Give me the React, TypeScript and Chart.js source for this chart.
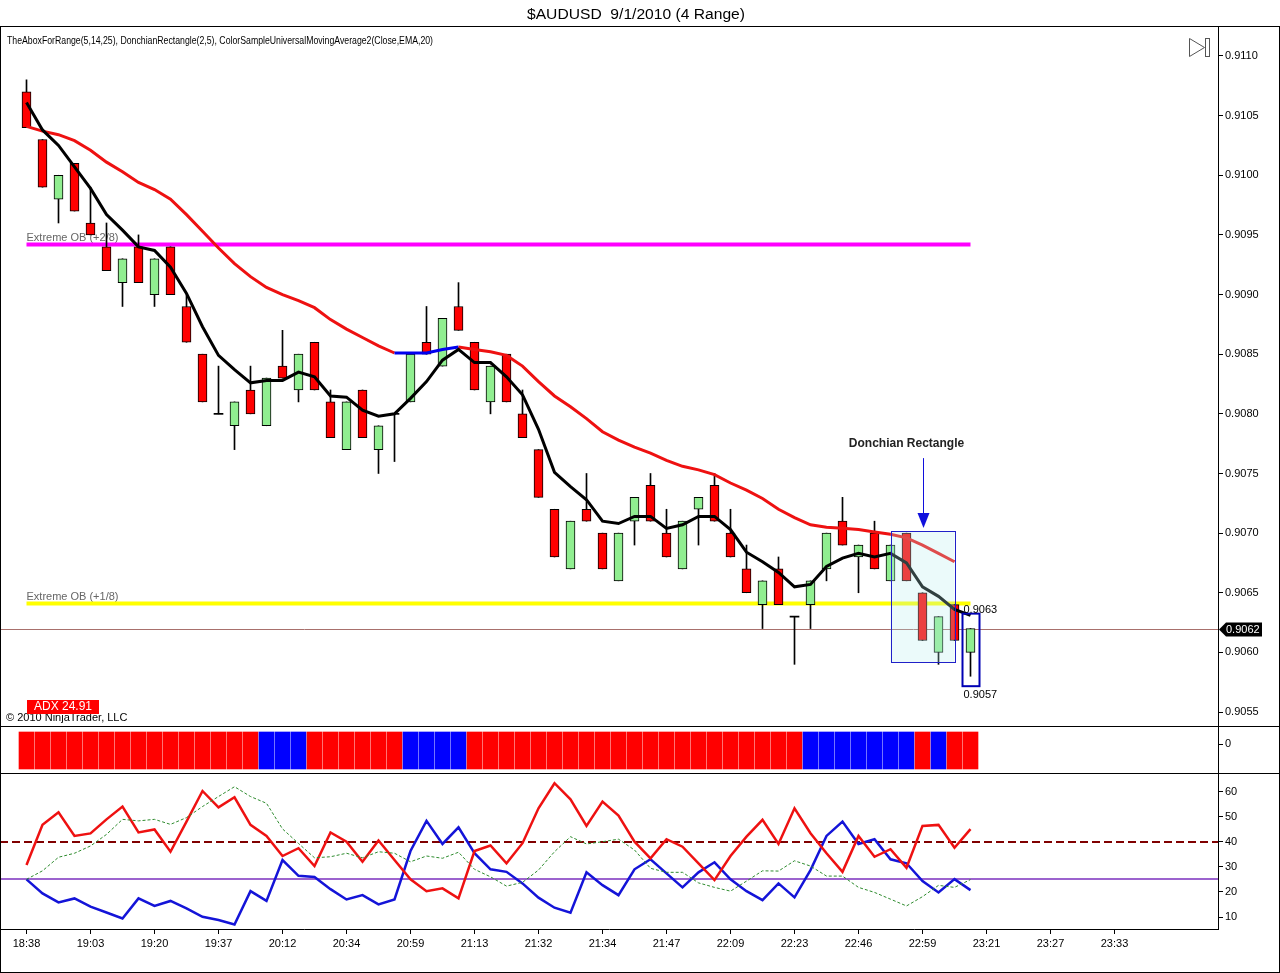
import { useEffect, useRef } from "react";
import { Chart, registerables, type Plugin } from "chart.js";

Chart.register(...registerables);

const FONT = "'Liberation Sans', Arial, Helvetica, sans-serif";
Chart.defaults.font.family = FONT;
Chart.defaults.font.size = 11;
Chart.defaults.color = "#000";

// ---- data (4 range bars, AUDUSD) ----
const timeLabels = ["18:38", "19:03", "19:20", "19:37", "20:12", "20:34", "20:59", "21:13", "21:32", "21:34", "21:47", "22:09", "22:23", "22:46", "22:59", "23:21", "23:27", "23:33"];
const priceTicks = [0.9055, 0.906, 0.9065, 0.907, 0.9075, 0.908, 0.9085, 0.909, 0.9095, 0.91, 0.9105, 0.911];
const dmiTicks = [10, 20, 30, 40, 50, 60];

const open = [
  0.9107, 0.9103, 0.9098, 0.9101, 0.9096, 0.9094, 0.9091, 0.9094, 0.9090, 0.9094,
  0.9089, 0.9085, 0.9080, 0.9079, 0.9082, 0.9079, 0.9084, 0.9082, 0.9086, 0.9081,
  0.9077, 0.9082, 0.9077, 0.9080, 0.9081, 0.9086, 0.9084, 0.9089, 0.9086, 0.9081,
  0.9085, 0.9080, 0.9077, 0.9072, 0.9067, 0.9072, 0.9070, 0.9066, 0.9071, 0.9074,
  0.9070, 0.9067, 0.9072, 0.9074, 0.9070, 0.9067, 0.9064, 0.9067, 0.9063, 0.9064,
  0.9067, 0.9071, 0.9068, 0.9070, 0.9066, 0.9070, 0.9065, 0.9060, 0.9064, 0.9060,
];
const high = [
  0.9108, 0.9103, 0.9100, 0.9101, 0.9099, 0.9096, 0.9093, 0.9095, 0.9093, 0.9094,
  0.9090, 0.9085, 0.9084, 0.9081, 0.9084, 0.9083, 0.9087, 0.9085, 0.9086, 0.9082,
  0.9081, 0.9082, 0.9079, 0.9080, 0.9085, 0.9089, 0.9088, 0.9091, 0.9086, 0.9084,
  0.9085, 0.9082, 0.9077, 0.9072, 0.9071, 0.9075, 0.9070, 0.9070, 0.9073, 0.9075,
  0.9072, 0.9071, 0.9073, 0.9075, 0.9072, 0.9069, 0.9066, 0.9068, 0.9063, 0.9066,
  0.9070, 0.9073, 0.9069, 0.9071, 0.9069, 0.9070, 0.9065, 0.9063, 0.9064, 0.9062,
];
const low = [
  0.9104, 0.9099, 0.9096, 0.9097, 0.9095, 0.9092, 0.9089, 0.9091, 0.9089, 0.9090,
  0.9086, 0.9081, 0.9080, 0.9077, 0.9080, 0.9079, 0.9083, 0.9081, 0.9082, 0.9078,
  0.9077, 0.9078, 0.9075, 0.9076, 0.9081, 0.9085, 0.9084, 0.9087, 0.9082, 0.9080,
  0.9081, 0.9078, 0.9073, 0.9068, 0.9067, 0.9071, 0.9067, 0.9066, 0.9069, 0.9071,
  0.9068, 0.9067, 0.9069, 0.9071, 0.9068, 0.9065, 0.9062, 0.9064, 0.9059, 0.9062,
  0.9066, 0.9069, 0.9065, 0.9067, 0.9066, 0.9066, 0.9061, 0.9059, 0.9061, 0.9058,
];
const close = [
  0.9104, 0.9099, 0.9100, 0.9097, 0.9095, 0.9092, 0.9093, 0.9091, 0.9093, 0.9090,
  0.9086, 0.9081, 0.9080, 0.9081, 0.9080, 0.9083, 0.9083, 0.9085, 0.9082, 0.9078,
  0.9081, 0.9078, 0.9079, 0.9080, 0.9085, 0.9085, 0.9088, 0.9087, 0.9082, 0.9084,
  0.9081, 0.9078, 0.9073, 0.9068, 0.9071, 0.9071, 0.9067, 0.9070, 0.9073, 0.9071,
  0.9068, 0.9071, 0.9073, 0.9071, 0.9068, 0.9065, 0.9066, 0.9064, 0.9063, 0.9066,
  0.9070, 0.9069, 0.9069, 0.9067, 0.9069, 0.9066, 0.9061, 0.9063, 0.9061, 0.9062,
];

// ColorSampleUniversalMovingAverage2(Close,EMA,20) - blue while rising
const ema20 = [
  0.91041, 0.91037, 0.91034, 0.91029, 0.91021, 0.91011, 0.91003, 0.90994, 0.90988, 0.90980,
  0.90967, 0.90953, 0.90939, 0.90926, 0.90915, 0.90906, 0.90900, 0.90895, 0.90889, 0.90879,
  0.90871, 0.90864, 0.90857, 0.90851, 0.90851, 0.90851, 0.90854, 0.90856, 0.90854, 0.90852,
  0.90849, 0.90840, 0.90827, 0.90815, 0.90806, 0.90796, 0.90785, 0.90778, 0.90772, 0.90767,
  0.90761, 0.90756, 0.90753, 0.90749, 0.90742, 0.90736, 0.90729, 0.90720, 0.90713, 0.90707,
  0.90705, 0.90704, 0.90703, 0.90701, 0.90699, 0.90696, 0.90690, 0.90683, 0.90676,
];
const emaUpFrom = 23;
const emaUpTo = 27;

// the black fast average
const fastMa = [
  0.91061, 0.91038, 0.91025, 0.91007, 0.90989, 0.90967, 0.90954, 0.90940, 0.90937, 0.90923,
  0.90901, 0.90873, 0.90849, 0.90837, 0.90826, 0.90828, 0.90828, 0.90835, 0.90831, 0.90815,
  0.90814, 0.90803, 0.90798, 0.90800, 0.90813, 0.90827, 0.90845, 0.90854, 0.90843, 0.90843,
  0.90831, 0.90816, 0.90787, 0.90751, 0.90739, 0.90728, 0.90710, 0.90708, 0.90714, 0.90714,
  0.90704, 0.90707, 0.90714, 0.90714, 0.90703, 0.90684, 0.90676, 0.90667, 0.90655, 0.90657,
  0.90672, 0.90679, 0.90683, 0.90680, 0.90683, 0.90675, 0.90655, 0.90647, 0.90636, 0.90631,
];

const obHigh = 0.90942; // Extreme OB (+2/8)
const obLow = 0.90641; // Extreme OB (+1/8)
const donchian = { from: 54, to: 58, high: 0.907, low: 0.9059 };
const lastBox = { high: 0.9063, low: 0.9057 };

// -1 = red, 1 = blue
const trendState = [
  -1, -1, -1, -1, -1, -1, -1, -1, -1, -1,
  -1, -1, -1, -1, -1, 1, 1, 1, -1, -1,
  -1, -1, -1, -1, 1, 1, 1, 1, -1, -1,
  -1, -1, -1, -1, -1, -1, -1, -1, -1, -1,
  -1, -1, -1, -1, -1, -1, -1, -1, -1, 1,
  1, 1, 1, 1, 1, 1, -1, 1, -1, -1,
];

const diMinus = [
  30.7, 46.7, 51.7, 42.3, 43.3, 48.9, 54.0, 43.7, 44.9, 36.0,
  48.0, 60.2, 53.7, 57.7, 46.7, 42.3, 34.3, 37.4, 30.3, 43.7,
  40.0, 32.0, 40.5, 32.7, 25.0, 20.3, 21.4, 17.4, 36.3, 38.5,
  31.4, 39.4, 53.3, 63.3, 56.9, 46.3, 56.0, 50.4, 40.0, 33.4,
  41.0, 38.0, 31.4, 24.7, 34.3, 42.0, 48.7, 39.1, 53.3, 43.4,
  35.4, 28.0, 42.3, 34.0, 37.0, 29.6, 46.3, 46.7, 37.6, 45.0,
];
const diPlus = [
  25.0, 19.4, 15.8, 17.4, 14.1, 11.8, 9.4, 17.4, 14.4, 16.4,
  13.4, 10.1, 8.8, 7.0, 20.3, 16.4, 32.7, 26.4, 25.9, 21.1,
  17.0, 18.7, 15.0, 17.0, 36.3, 48.3, 39.1, 45.7, 35.4, 29.0,
  28.0, 23.4, 17.7, 13.7, 11.7, 27.8, 22.7, 18.7, 29.0, 33.0,
  27.4, 21.8, 27.8, 31.8, 25.0, 20.3, 16.7, 23.4, 17.8, 28.7,
  42.3, 48.0, 39.1, 41.0, 33.0, 31.4, 24.3, 19.8, 25.1, 20.7,
];
const adx = [
  25.0, 28.4, 33.8, 35.4, 38.3, 42.9, 48.9, 48.3, 48.9, 46.9,
  49.6, 54.0, 58.0, 61.9, 58.0, 55.3, 45.1, 39.3, 33.6, 34.0,
  35.4, 33.6, 36.0, 35.4, 32.0, 34.3, 33.4, 35.8, 29.0, 26.0,
  22.3, 23.8, 28.7, 36.0, 42.0, 39.1, 40.0, 41.0, 36.7, 29.4,
  27.8, 27.8, 23.6, 21.8, 20.3, 24.3, 28.4, 28.3, 32.4, 30.3,
  26.3, 26.3, 21.8, 19.8, 17.1, 14.4, 18.1, 22.6, 21.8, 24.91,
];
const adxUpper = 40;
const adxLower = 25;

// ---- layout ----
const W = 1280;
const AXIS_W = 62;
const X_MIN = -1.65625;
const X_MAX = 74.46875;
const MAIN = { top: 27, h: 699, min: 0.905383, max: 0.911243 };
const STRIP = { top: 727, h: 46, min: -1.7, max: 1 };
const DMI = { top: 774, h: 190, min: 5.22, max: 66.97 };
const X_AXIS_H = 35;
const DOJI_EPS = 0.0000045;

const barIndex = open.map((_, i) => i);
const lastPrice = close[close.length - 1];

function xAxis(show: boolean): any {
  return {
    type: "linear",
    display: show,
    min: X_MIN,
    max: X_MAX,
    offset: false,
    bounds: "data",
    afterBuildTicks: (s: any) => {
      s.ticks = timeLabels.map((_, k) => ({ value: k * 4 }));
    },
    afterFit: (s: any) => {
      s.paddingLeft = 0;
      s.paddingRight = 0;
      if (show) s.height = X_AXIS_H;
    },
    grid: { drawOnChartArea: false, offset: false, tickLength: 5, color: "#000" },
    border: { display: true, color: "#000" },
    ticks: {
      callback: (v: number) => timeLabels[Math.round(v / 4)] ?? "",
      autoSkip: false,
      maxRotation: 0,
      padding: 3,
      color: "#000",
    },
  };
}

function rightAxis(min: number, max: number, values: number[], fmt: (v: number) => string): any {
  return {
    type: "linear",
    position: "right",
    min,
    max,
    bounds: "data",
    afterBuildTicks: (s: any) => {
      s.ticks = values.map((value) => ({ value }));
    },
    afterFit: (s: any) => {
      s.width = AXIS_W;
      s.paddingTop = 0;
      s.paddingBottom = 0;
    },
    grid: { drawOnChartArea: false, tickLength: 5, color: "#000" },
    border: { display: true, color: "#000" },
    ticks: { callback: fmt, padding: 2, color: "#000" },
  };
}

const baseOptions: any = {
  responsive: false,
  animation: false,
  events: [],
  layout: { padding: 0 },
  plugins: { legend: { display: false }, tooltip: { enabled: false }, title: { display: false } },
};

const mainOverlay: Plugin = {
  id: "mainOverlay",
  beforeDatasetsDraw(chart) {
    const { ctx, chartArea: a } = chart;
    const x = chart.scales.x;
    const y = chart.scales.y;
    ctx.save();
    // last price line
    const py = Math.round(y.getPixelForValue(lastPrice)) + 0.5;
    ctx.strokeStyle = "#a8706c";
    ctx.lineWidth = 1;
    ctx.beginPath();
    ctx.moveTo(a.left, py);
    ctx.lineTo(a.right, py);
    ctx.stroke();
    // murrey labels
    ctx.font = `11px ${FONT}`;
    ctx.fillStyle = "#666";
    ctx.textBaseline = "alphabetic";
    const lx = x.getPixelForValue(0);
    ctx.fillText("Extreme OB (+2/8)", lx, y.getPixelForValue(obHigh) - 3);
    ctx.fillText("Extreme OB (+1/8)", lx, y.getPixelForValue(obLow) - 3);
    ctx.restore();
  },
  afterDatasetsDraw(chart) {
    const { ctx, chartArea: a } = chart;
    const x = chart.scales.x;
    const y = chart.scales.y;
    ctx.save();
    // donchian rectangle (translucent)
    const rx0 = x.getPixelForValue(donchian.from);
    const rx1 = x.getPixelForValue(donchian.to);
    const ry0 = y.getPixelForValue(donchian.high) - 2;
    const ry1 = y.getPixelForValue(donchian.low) - 2;
    ctx.fillStyle = "rgba(180, 235, 235, 0.27)";
    ctx.fillRect(rx0, ry0, rx1 - rx0, ry1 - ry0);
    ctx.strokeStyle = "#2020c8";
    ctx.lineWidth = 1;
    ctx.strokeRect(Math.round(rx0) + 0.5, Math.round(ry0) + 0.5, Math.round(rx1 - rx0), Math.round(ry1 - ry0));

    // arrow + caption
    const ax = Math.round(x.getPixelForValue(donchian.from + 2)) + 0.5;
    const tip = ry0 - 3;
    ctx.strokeStyle = "#1010dd";
    ctx.fillStyle = "#1010dd";
    ctx.beginPath();
    ctx.moveTo(ax, tip - 70);
    ctx.lineTo(ax, tip - 12);
    ctx.stroke();
    ctx.beginPath();
    ctx.moveTo(ax - 6, tip - 15);
    ctx.lineTo(ax + 6, tip - 15);
    ctx.lineTo(ax, tip);
    ctx.closePath();
    ctx.fill();
    ctx.font = `bold 12px ${FONT}`;
    ctx.fillStyle = "#222";
    ctx.textAlign = "center";
    ctx.textBaseline = "middle";
    ctx.fillText("Donchian Rectangle", ax - 17, tip - 84);

    // last-bar donchian box
    const bx = x.getPixelForValue(open.length - 1);
    const by0 = y.getPixelForValue(lastBox.high) - 3;
    const by1 = y.getPixelForValue(lastBox.low) - 2;
    ctx.strokeStyle = "#0000b4";
    ctx.lineWidth = 2;
    ctx.strokeRect(bx - 8, by0, 17, by1 - by0);
    ctx.font = `11px ${FONT}`;
    ctx.fillStyle = "#000";
    ctx.textAlign = "left";
    ctx.textBaseline = "alphabetic";
    ctx.fillText(lastBox.high.toFixed(4), bx - 7, by0 - 1);
    ctx.fillText(lastBox.low.toFixed(4), bx - 7, by1 + 12);

    // copyright + ADX readout
    ctx.fillStyle = "#000";
    ctx.fillText("\u00a9 2010 NinjaTrader, LLC", a.left + 6, a.bottom - 5);
    ctx.fillStyle = "#ff0000";
    ctx.fillRect(a.left + 27, a.bottom - 26, 72, 14);
    ctx.fillStyle = "#fff";
    ctx.font = `12px ${FONT}`;
    ctx.textAlign = "center";
    ctx.textBaseline = "middle";
    ctx.fillText(`ADX ${adx[adx.length - 1].toFixed(2)}`, a.left + 63, a.bottom - 19);
    ctx.restore();
  },
  afterDraw(chart) {
    const { ctx, chartArea: a } = chart;
    const y = chart.scales.y;
    const py = Math.round(y.getPixelForValue(lastPrice)) + 0.5;
    ctx.save();
    ctx.fillStyle = "#000";
    ctx.beginPath();
    ctx.moveTo(a.right + 1, py);
    ctx.lineTo(a.right + 8, py - 7);
    ctx.lineTo(a.right + 44, py - 7);
    ctx.lineTo(a.right + 44, py + 7);
    ctx.lineTo(a.right + 8, py + 7);
    ctx.closePath();
    ctx.fill();
    ctx.fillStyle = "#fff";
    ctx.font = `11px ${FONT}`;
    ctx.textBaseline = "middle";
    ctx.fillText(lastPrice.toFixed(4), a.right + 8, py);
    ctx.restore();
  },
};

const dmiLevels: Plugin = {
  id: "dmiLevels",
  beforeDatasetsDraw(chart) {
    const { ctx, chartArea: a } = chart;
    const y = chart.scales.y;
    ctx.save();
    const y1 = Math.round(y.getPixelForValue(adxUpper));
    ctx.strokeStyle = "#800000";
    ctx.lineWidth = 2;
    ctx.setLineDash([8, 4]);
    ctx.beginPath();
    ctx.moveTo(a.left, y1);
    ctx.lineTo(a.right, y1);
    ctx.stroke();
    const y2 = Math.round(y.getPixelForValue(adxLower));
    ctx.setLineDash([]);
    ctx.strokeStyle = "#7b2fbe";
    ctx.lineWidth = 1.5;
    ctx.beginPath();
    ctx.moveTo(a.left, y2);
    ctx.lineTo(a.right, y2);
    ctx.stroke();
    ctx.restore();
  },
};

export default function App() {
  const mainRef = useRef<HTMLCanvasElement | null>(null);
  const stripRef = useRef<HTMLCanvasElement | null>(null);
  const dmiRef = useRef<HTMLCanvasElement | null>(null);

  useEffect(() => {
    if (!mainRef.current || !stripRef.current || !dmiRef.current) return;

    const bodies = open.map((o, i) =>
      o === close[i] ? [o - DOJI_EPS, o + DOJI_EPS] : [Math.min(o, close[i]), Math.max(o, close[i])]
    );
    const bodyFill = open.map((o, i) => (close[i] > o ? "#90ee90" : close[i] < o ? "#ff0000" : "#000"));
    const bodyBorder = open.map((o, i) => (o === close[i] ? 0 : 1));

    const main = new Chart(mainRef.current, {
      type: "bar",
      data: {
        labels: barIndex,
        datasets: [
          { type: "line", data: open.map(() => obHigh), borderColor: "#ff00ff", borderWidth: 4, pointRadius: 0, order: 10 },
          { type: "line", data: open.map(() => obLow), borderColor: "#ffff00", borderWidth: 4, pointRadius: 0, order: 10 },
          {
            type: "bar",
            data: low.map((l, i) => [l, high[i]]),
            backgroundColor: "#000",
            barThickness: 1,
            grouped: false,
            borderWidth: 0,
            order: 8,
          },
          {
            type: "bar",
            data: bodies,
            backgroundColor: bodyFill,
            borderColor: "#000",
            borderWidth: bodyBorder,
            borderSkipped: false,
            barThickness: 9,
            grouped: false,
            order: 7,
          },
          {
            type: "line",
            data: ema20,
            borderColor: "#ee1111",
            borderWidth: 3,
            pointRadius: 0,
            tension: 0,
            segment: {
              borderColor: (c: any) =>
                c.p0DataIndex >= emaUpFrom && c.p1DataIndex <= emaUpTo ? "#0000ee" : "#ee1111",
            },
            order: 5,
          },
          { type: "line", data: fastMa, borderColor: "#000", borderWidth: 3, pointRadius: 0, tension: 0, order: 4 },
        ] as any,
      },
      options: {
        ...baseOptions,
        scales: {
          x: xAxis(false),
          y: rightAxis(MAIN.min, MAIN.max, priceTicks, (v) => v.toFixed(4)),
        },
      },
      plugins: [mainOverlay],
    });

    const strip = new Chart(stripRef.current, {
      type: "bar",
      data: {
        labels: barIndex,
        datasets: [
          {
            data: trendState.map(() => [-1.465, 0.707]) as any,
            backgroundColor: trendState.map((s) => (s > 0 ? "#0000ff" : "#ff0000")),
            borderWidth: 0,
            barThickness: 15,
            grouped: false,
          },
        ],
      },
      options: {
        ...baseOptions,
        scales: {
          x: xAxis(false),
          y: rightAxis(STRIP.min, STRIP.max, [0], (v) => String(v)),
        },
      },
    });

    const dmi = new Chart(dmiRef.current, {
      type: "line",
      data: {
        labels: barIndex,
        datasets: [
          { data: adx, borderColor: "#2e8b2e", borderWidth: 1, borderDash: [3, 2], pointRadius: 0, tension: 0 },
          { data: diMinus, borderColor: "#ee1111", borderWidth: 2.5, pointRadius: 0, tension: 0 },
          { data: diPlus, borderColor: "#1414d8", borderWidth: 2.5, pointRadius: 0, tension: 0 },
        ],
      },
      options: {
        ...baseOptions,
        scales: {
          x: xAxis(true),
          y: rightAxis(DMI.min, DMI.max, dmiTicks, (v) => String(v)),
        },
      },
      plugins: [dmiLevels],
    });

    return () => {
      main.destroy();
      strip.destroy();
      dmi.destroy();
    };
  }, []);

  const abs = (top: number, h: number) => ({ position: "absolute" as const, left: 0, top, width: W, height: h });

  return (
    <div style={{ position: "absolute", left: 0, top: 0, width: W, height: 973, background: "#fff", overflow: "hidden" }}>
      <canvas ref={mainRef} width={W} height={MAIN.h} style={abs(MAIN.top, MAIN.h)} />
      <canvas ref={stripRef} width={W} height={STRIP.h} style={abs(STRIP.top, STRIP.h)} />
      <canvas ref={dmiRef} width={W} height={DMI.h} style={abs(DMI.top, DMI.h)} />

      <svg width={W} height={60} style={{ position: "absolute", left: 0, top: 0 }}>
        <text
          x={527}
          y={19}
          fontSize={14}
          fontFamily={FONT}
          textLength={218}
          lengthAdjust="spacingAndGlyphs"
          style={{ whiteSpace: "pre" }}
        >
          {"$AUDUSD  9/1/2010 (4 Range)"}
        </text>
        <text x={7} y={44} fontSize={11} fontFamily={FONT} textLength={426} lengthAdjust="spacingAndGlyphs">
          TheAboxForRange(5,14,25), DonchianRectangle(2,5), ColorSampleUniversalMovingAverage2(Close,EMA,20)
        </text>
        <polygon points="1189.5,38.5 1189.5,56.5 1204.5,47.5" fill="none" stroke="#555" />
        <rect x={1205.5} y={38.5} width={4} height={18} fill="none" stroke="#555" />
      </svg>

      <div style={{ position: "absolute", left: 0, top: 26, width: W, height: 947, border: "1px solid #000", boxSizing: "border-box", pointerEvents: "none" }} />
      <div style={{ position: "absolute", left: 0, top: 726, width: W, height: 1, background: "#000" }} />
      <div style={{ position: "absolute", left: 0, top: 773, width: W, height: 1, background: "#000" }} />
    </div>
  );
}
